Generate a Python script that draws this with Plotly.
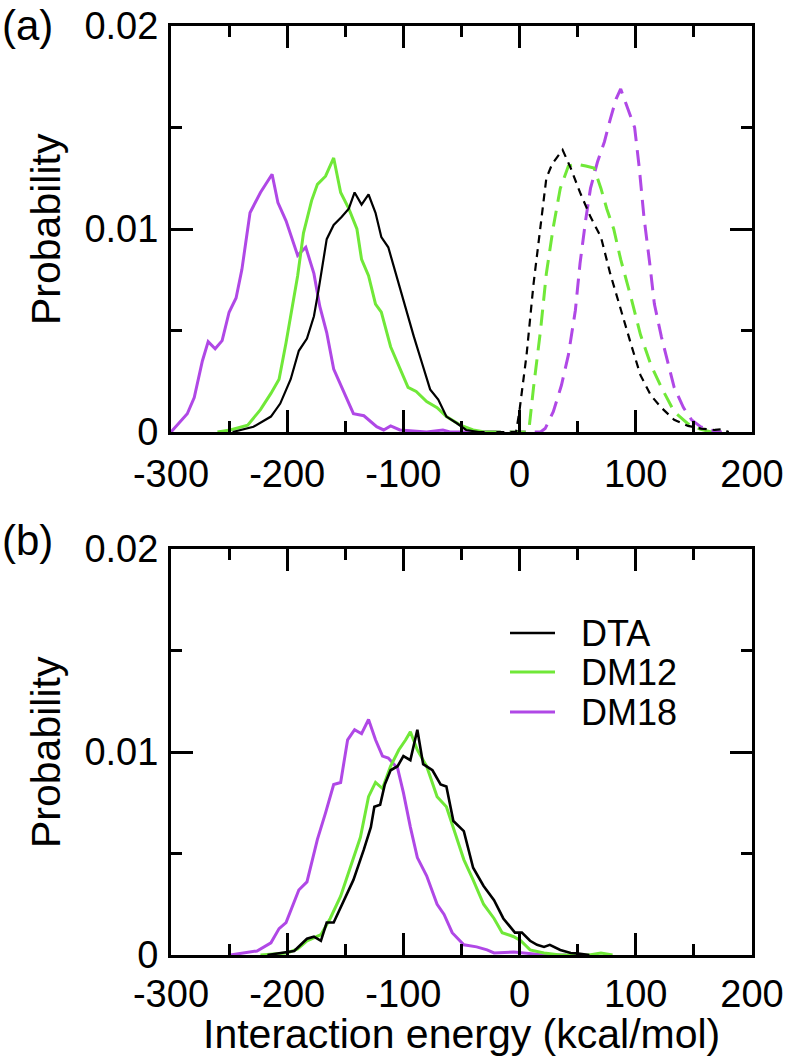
import plotly.graph_objects as go

# ---------------- data ----------------
# Panel (a): solid curves
a_dta_x = [-247,-229,-214,-206,-197,-190,-183,-177,-173,-166,-160,-153,-147,-142,-136,-130,-124,-119,-113,-106,-99,-91,-84,-77,-70,-63,-54,-46,-35,-20]
a_dta_y = [0,0.00026,0.00076,0.0014,0.0026,0.004,0.0046,0.0057,0.007,0.0095,0.0102,0.0106,0.011,0.0118,0.0112,0.0117,0.0108,0.0096,0.0091,0.0077,0.0062,0.0047,0.0034,0.0021,0.0016,0.00076,0.00043,0.0001,0,0]
a_dm12_x = [-260,-249,-234,-223,-214,-207,-201,-197,-191,-186,-179,-174,-167,-160,-154,-147,-140,-136,-130,-124,-119,-111,-103,-96,-89,-80,-71,-63,-51,-40,-30,-20]
a_dm12_y = [0,0.0001,0.00034,0.0011,0.0019,0.0026,0.0044,0.0057,0.0077,0.0098,0.0114,0.0122,0.0126,0.0135,0.0118,0.011,0.0100,0.0085,0.0077,0.0063,0.0059,0.0042,0.0031,0.0022,0.002,0.0015,0.0012,0.00076,0.00034,0.0001,0,0]
a_dm18_x = [-300,-286,-280,-273,-268,-262,-256,-250,-244,-239,-232,-223,-213,-208,-201,-191,-184,-177,-172,-166,-160,-151,-143,-134,-123,-117,-111,-103,-90,-80,-66,-60,-40,-20]
a_dm18_y = [0,0.0009,0.0017,0.0035,0.00445,0.0041,0.0045,0.0059,0.0066,0.008,0.0108,0.0118,0.0127,0.0113,0.0104,0.0087,0.0091,0.0078,0.0062,0.0049,0.0031,0.0019,0.0009,0.0008,0.00026,0.0001,0.0003,0.0001,0.00005,0,0.0001,0,0,0]

# Panel (a): dashed curves
a_dta_d_x = [-20,-3,0,6,12,18,23,28,32,37,44,52,61,70,78,87,96,104,113,122,133,145,156,168,174,180]
a_dta_d_y = [0,0,0.0011,0.0038,0.0073,0.01,0.0125,0.0132,0.0135,0.0139,0.013,0.0118,0.0106,0.0096,0.0078,0.006,0.0043,0.0028,0.0018,0.0012,0.0006,0.0003,0.00017,0.0001,0.00013,0]
a_dm12_d_x = [-30,6,8,12,18,23,29,35,42,49,57,64,70,75,81,87,96,104,113,122,133,145,156,165]
a_dm12_d_y = [0,0,0.0001,0.0022,0.005,0.0078,0.0101,0.012,0.0131,0.0132,0.0131,0.013,0.012,0.011,0.01,0.0085,0.0066,0.0048,0.0033,0.0022,0.001,0.0004,0.00013,0]
a_dm18_d_x = [-30,18,22,29,36,42,48,52,57,61,67,73,78,83,87,93,99,103,107,112,116,122,128,133,141,148,156,168,174]
a_dm18_d_y = [0,0,0.00017,0.001,0.0023,0.0038,0.006,0.0083,0.0105,0.012,0.0133,0.0143,0.0154,0.0164,0.0169,0.016,0.015,0.013,0.0106,0.0083,0.0063,0.0047,0.0033,0.0022,0.0012,0.0006,0.00025,0.00003,0]

# Panel (b)
b_dta_x = [-217,-194,-183,-177,-171,-166,-160,-151,-143,-134,-128,-125,-120,-116,-111,-105,-100,-94,-88,-83,-75,-68,-63,-57,-48,-40,-31,-22,-14,-4,2,9,15,21,26,35,44,49,60]
b_dta_y = [0,0.0002,0.0008,0.0009,0.0007,0.0016,0.0016,0.0027,0.0037,0.0052,0.0063,0.0073,0.0074,0.0084,0.0091,0.0093,0.0098,0.0096,0.0111,0.0094,0.0091,0.0084,0.0083,0.0066,0.0061,0.0043,0.0034,0.0027,0.0018,0.0011,0.0011,0.0007,0.0005,0.0004,0.0005,0.00025,0.0001,0.00008,0]
b_dm12_x = [-223,-200,-191,-183,-171,-163,-154,-146,-137,-130,-124,-118,-111,-104,-98,-94,-88,-80,-71,-63,-57,-48,-40,-31,-22,-15,-5,1,9,21,35,60,70,80]
b_dm12_y = [0,0.0001,0.0003,0.0007,0.001,0.0018,0.0029,0.0043,0.0058,0.0078,0.0085,0.0082,0.0093,0.0101,0.0106,0.011,0.0101,0.0093,0.0078,0.0073,0.0063,0.0047,0.0037,0.0025,0.0018,0.0011,0.0009,0.0007,0.00025,0.0001,0,0,0.0001,0]
b_dm18_x = [-249,-226,-214,-207,-201,-190,-183,-174,-167,-160,-154,-148,-142,-136,-130,-124,-118,-113,-105,-100,-94,-88,-80,-71,-65,-58,-48,-37,-28,-22,-5,6,21,40]
b_dm18_y = [0,0.0002,0.0006,0.0013,0.0016,0.0032,0.0036,0.0057,0.007,0.0084,0.0085,0.0106,0.0111,0.0109,0.0116,0.0106,0.0098,0.0097,0.0092,0.008,0.0063,0.0048,0.0039,0.0025,0.002,0.0011,0.0005,0.0004,0.00025,0.0001,0.00015,0.0001,0,0]

series_names = ["DTA", "DM12", "DM18"]
x_tickvals = [-300, -200, -100, 0, 100, 200]
x_ticktext = ["-300", "-200", "-100", "0", "100", "200"]
y_tickvals = [0, 0.01, 0.02]
y_ticktext = ["0", "0.01", "0.02"]
x_title = "Interaction energy (kcal/mol)"
y_title = "Probability"
panel_labels = ["(a)", "(b)"]

# ---------------- style ----------------
BLACK = "#000000"
GREEN = "#70E838"
PURPLE = "#B048E6"
colors = {"DTA": BLACK, "DM12": GREEN, "DM18": PURPLE}
FONT = "Liberation Sans"
FS = 38
FT = 41
FP = 42
FL = 36
W, H = 793, 1058

fig = go.Figure()

def add(x, y, color, width, dash, name, xa, ya):
    fig.add_trace(go.Scatter(x=x, y=y, mode="lines", name=name,
                             line=dict(color=color, width=width, dash=dash),
                             xaxis=xa, yaxis=ya, showlegend=False))

# panel (a)
add(a_dm18_x, a_dm18_y, PURPLE, 3, "solid", "DM18", "x", "y")
add(a_dm12_x, a_dm12_y, GREEN, 3, "solid", "DM12", "x", "y")
add(a_dta_x, a_dta_y, BLACK, 2.2, "solid", "DTA", "x", "y")
add(a_dm18_d_x, a_dm18_d_y, PURPLE, 3, "16px,9px", "DM18", "x", "y")
add(a_dm12_d_x, a_dm12_d_y, GREEN, 3, "16px,9px", "DM12", "x", "y")
add(a_dta_d_x, a_dta_d_y, BLACK, 2.2, "8px,6px", "DTA", "x", "y")
# panel (b)
add(b_dm18_x, b_dm18_y, PURPLE, 3, "solid", "DM18", "x2", "y2")
add(b_dm12_x, b_dm12_y, GREEN, 3, "solid", "DM12", "x2", "y2")
add(b_dta_x, b_dta_y, BLACK, 2.6, "solid", "DTA", "x2", "y2")

L, R = 171, 752
a_top, a_bot = 26, 432
b_top, b_bot = 549, 955

def px_x(p):
    return p / W

def px_y(p):
    return 1 - p / H

xax = dict(range=[-300, 200], tickvals=x_tickvals, ticktext=x_ticktext,
           ticks="inside", ticklen=22, tickwidth=2.5, tickcolor="black",
           showline=True, linewidth=3, linecolor="black", mirror="ticks",
           showgrid=False, zeroline=False, automargin=False,
           tickfont=dict(family=FONT, size=FS, color="black"),
           minor=dict(dtick=50, ticks="inside", ticklen=11, tickwidth=2.5, tickcolor="black", showgrid=False),
           domain=[px_x(L), px_x(R)])
yax = dict(range=[0, 0.02], tickvals=y_tickvals, ticktext=y_ticktext,
           ticks="inside", ticklen=22, tickwidth=2.5, tickcolor="black",
           showline=True, linewidth=3, linecolor="black", mirror="ticks",
           showgrid=False, zeroline=False, ticklabelstandoff=2, automargin=False,
           tickfont=dict(family=FONT, size=FS, color="black"),
           minor=dict(dtick=0.005, ticks="inside", ticklen=11, tickwidth=2.5, tickcolor="black", showgrid=False))

fig.update_layout(
    width=W, height=H, margin=dict(l=0, r=0, t=0, b=0, autoexpand=False),
    paper_bgcolor="white", plot_bgcolor="white",
    xaxis=dict(xax, anchor="y", ticklabelstandoff=6),
    yaxis=dict(yax, anchor="x", domain=[px_y(a_bot), px_y(a_top)]),
    xaxis2=dict(xax, anchor="y2", ticklabelstandoff=3),
    yaxis2=dict(yax, anchor="x2", domain=[px_y(b_bot), px_y(b_top)]),
    showlegend=False,
)

annotations = [
    dict(text=panel_labels[0], x=px_x(0), y=px_y(0), xanchor="left", yanchor="top", size=FP),
    dict(text=panel_labels[1], x=px_x(0), y=px_y(540), xanchor="left", yanchor="middle", size=FP),
    dict(text=y_title, x=px_x(46), y=px_y((a_top + a_bot) / 2), textangle=-90, xanchor="center", yanchor="middle", size=FT),
    dict(text=y_title, x=px_x(46), y=px_y((b_top + b_bot) / 2), textangle=-90, xanchor="center", yanchor="middle", size=FT),
    dict(text=x_title, x=px_x((L + R) / 2), y=px_y(1034), xanchor="center", yanchor="middle", size=FT),
]
for a in annotations:
    sz = a.pop("size")
    fig.add_annotation(xref="paper", yref="paper", showarrow=False,
                       font=dict(family=FONT, size=sz, color="black"), **a)

# legend (panel b), drawn as line samples + labels
leg_rows = [633, 672, 712]
for name, yy in zip(series_names, leg_rows):
    fig.add_shape(type="line", xref="paper", yref="paper",
                  x0=px_x(510), x1=px_x(555), y0=px_y(yy), y1=px_y(yy),
                  line=dict(color=colors[name], width=3 if name != "DTA" else 2.6))
    fig.add_annotation(xref="paper", yref="paper", showarrow=False, text=name,
                       x=px_x(579), y=px_y(yy), xanchor="left", yanchor="middle",
                       font=dict(family=FONT, size=FL, color="black"))

fig.write_html("out.html", config={"displayModeBar": False},
               post_script="document.body.style.margin='0';document.body.style.overflow='hidden';")
